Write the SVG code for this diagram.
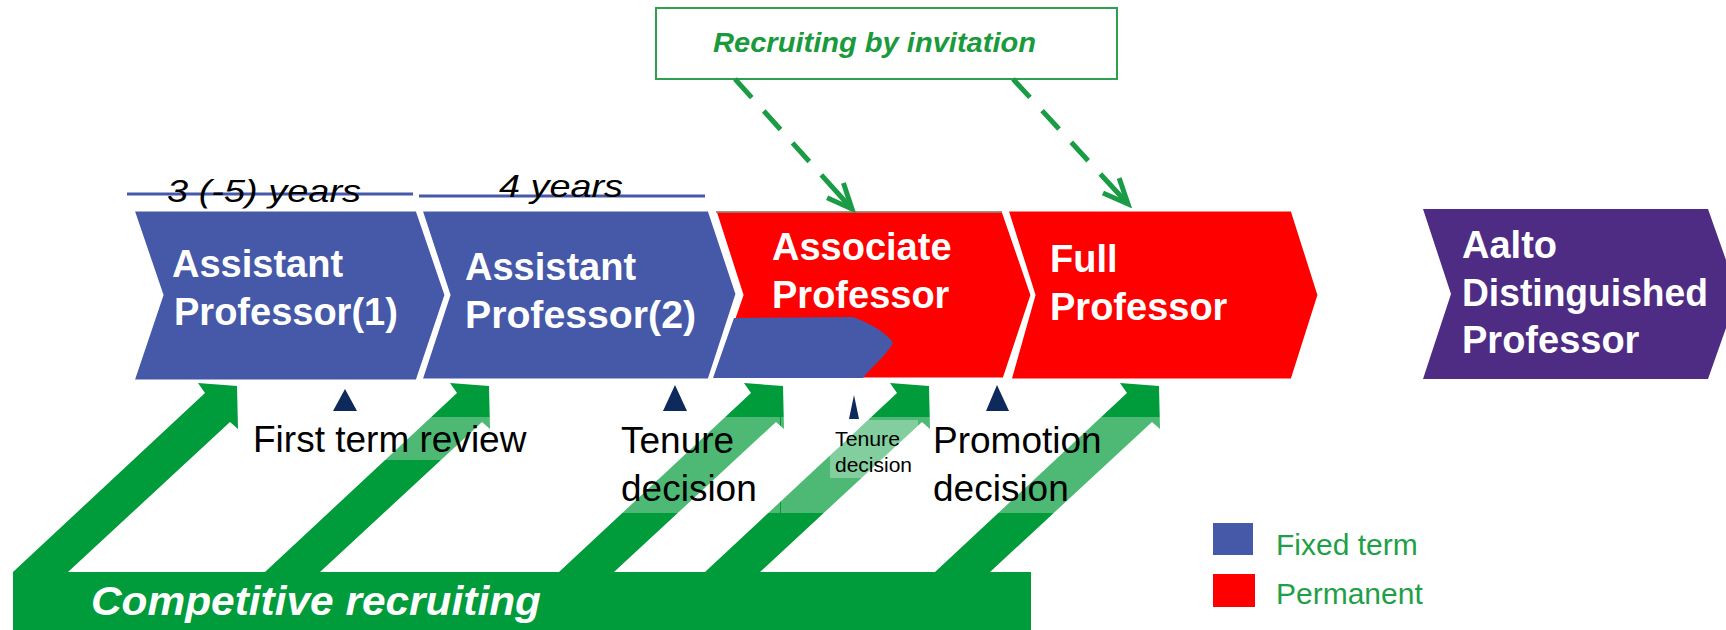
<svg xmlns="http://www.w3.org/2000/svg" xmlns:xlink="http://www.w3.org/1999/xlink" width="1726" height="630" viewBox="0 0 1726 630">
<style>
.blue{fill:#4559a8}
.red{fill:#ff0000}
.purple{fill:#4f2c84}
.chev{stroke:#ffffff;stroke-width:3;stroke-linejoin:miter}
.lbl{font-family:"Liberation Sans",Arial,sans-serif;font-weight:bold;font-size:38px;fill:#ffffff}
.note{font-family:"Liberation Sans",Arial,sans-serif;font-size:37px;fill:#000000}
.yrs{font-family:"Liberation Sans",Arial,sans-serif;font-style:italic;font-size:32px;fill:#000000}
.tri{fill:#0e2a5c}
.grn{fill:#009b3a}
.veil{fill:#ffffff;fill-opacity:0.3}
.legend{font-family:"Liberation Sans",Arial,sans-serif;font-size:30px;fill:#1f9f48}
.dash{fill:none;stroke:#1a9c46;stroke-width:5;stroke-dasharray:25 18 25 18 25 18 60}
</style>
<defs>
<marker id="openhead" viewBox="0 0 32 28" refX="27" refY="14" markerWidth="32" markerHeight="28" markerUnits="userSpaceOnUse" orient="auto">
<path d="M2,3 L27,14 L2,25" fill="none" stroke="#1a9c46" stroke-width="5"/>
</marker>
<path id="garrow" d="M13,572 L205,393 L198,383 L237,386 L238,429 L230,422 L68,572 Z"/>
</defs>

<rect width="1726" height="630" fill="#ffffff"/>

<!-- year spans -->
<g id="span1">
<line x1="127" y1="194" x2="413" y2="194" stroke="#4559a8" stroke-width="3"/>
<text class="yrs" x="167" y="202" textLength="194" lengthAdjust="spacingAndGlyphs">3 (-5) years</text>
</g>
<g id="span2">
<line x1="419" y1="196" x2="705" y2="196" stroke="#4559a8" stroke-width="3"/>
<text class="yrs" x="499" y="197" textLength="124" lengthAdjust="spacingAndGlyphs">4 years</text>
</g>

<!-- chevron nodes -->
<g id="assistant1">
<polygon class="blue chev" points="133,210 417,210 446,295 417,381 133,381 162,295"/>
<text class="lbl" x="172" y="277">Assistant</text>
<text class="lbl" x="174" y="325">Professor(1)</text>
</g>
<g id="assistant2">
<polygon class="blue chev" points="421,210 709,210 737,294 709,380 421,380 449,295"/>
<text class="lbl" x="465" y="280">Assistant</text>
<text class="lbl" x="465" y="328" textLength="231" lengthAdjust="spacingAndGlyphs">Professor(2)</text>
</g>
<g id="associate">
<polygon class="red chev" points="715,211 1003,211 1032,295 1004,379 713,379 742,295"/>
<path class="blue" d="M734,318 L853,317 C872,324 888,334 893,343 C886,356 870,368 863,378 L713,378 Z"/>
<line x1="716" y1="212" x2="1002" y2="212" stroke="#8a6a5a" stroke-width="1.5"/>
<text class="lbl" x="772" y="260">Associate</text>
<text class="lbl" x="772" y="308">Professor</text>
</g>
<g id="full">
<polygon class="red chev" points="1007,210 1292,210 1319,295 1292,380 1010,380 1034,295"/>
<text class="lbl" x="1050" y="272">Full</text>
<text class="lbl" x="1050" y="320">Professor</text>
</g>
<g id="distinguished">
<polygon class="purple" points="1423,209 1708,209 1738,294 1708,379 1423,379 1451,294"/>
<text class="lbl" x="1462" y="258">Aalto</text>
<text class="lbl" x="1462" y="306" textLength="246" lengthAdjust="spacingAndGlyphs">Distinguished</text>
<text class="lbl" x="1462" y="353">Professor</text>
</g>

<!-- invitation node -->
<g id="invitation">
<rect x="656" y="8" width="461" height="71" fill="#ffffff" stroke="#2ea04f" stroke-width="2"/>
<text x="713" y="52" textLength="323" lengthAdjust="spacingAndGlyphs" style="font-family:'Liberation Sans',Arial,sans-serif;font-weight:bold;font-style:italic;font-size:28px;fill:#1a9a3c">Recruiting by invitation</text>
</g>

<!-- competitive recruiting node -->
<g id="competitive">
<rect class="grn" x="13" y="572" width="1018" height="58"/>
<text x="91" y="615" textLength="450" lengthAdjust="spacingAndGlyphs" style="font-family:'Liberation Sans',Arial,sans-serif;font-weight:bold;font-style:italic;font-size:40px;fill:#ffffff">Competitive recruiting</text>
</g>

<!-- connectors -->
<g id="connectors">
<use xlink:href="#garrow" href="#garrow" class="grn"/>
<use xlink:href="#garrow" href="#garrow" class="grn" transform="translate(252,0)"/>
<use xlink:href="#garrow" href="#garrow" class="grn" transform="translate(546,0)"/>
<use xlink:href="#garrow" href="#garrow" class="grn" transform="translate(692,0)"/>
<use xlink:href="#garrow" href="#garrow" class="grn" transform="translate(922,0)"/>
<line class="dash" x1="735" y1="79" x2="852" y2="209" marker-end="url(#openhead)"/>
<line class="dash" x1="1013" y1="79" x2="1128" y2="204" marker-end="url(#openhead)"/>
</g>

<!-- decision milestones -->
<g id="first-term-review">
<rect class="veil" x="245" y="417" width="290" height="43"/>
<polygon class="tri" points="345,389 333,411 357,411"/>
<text class="note" x="253" y="452">First term review</text>
</g>
<g id="tenure-decision">
<rect class="veil" x="612" y="417" width="168" height="96"/>
<polygon class="tri" points="675,385 663,411 687,411"/>
<text class="note" x="621" y="453">Tenure</text>
<text class="note" x="621" y="501">decision</text>
</g>
<g id="promotion-decision">
<rect class="veil" x="781" y="417" width="380" height="96"/>
<polygon class="tri" points="997,385 986,411 1009,411"/>
<text class="note" x="933" y="453">Promotion</text>
<text class="note" x="933" y="501">decision</text>
</g>
<g id="tenure-decision-small">
<rect class="veil" x="830" y="420" width="88" height="58"/>
<polygon class="tri" points="854,395 849,419 859,419"/>
<text x="835" y="446" textLength="65" lengthAdjust="spacingAndGlyphs" style="font-family:'Liberation Sans',Arial,sans-serif;font-size:20px;fill:#000000">Tenure</text>
<text x="835" y="472" textLength="77" lengthAdjust="spacingAndGlyphs" style="font-family:'Liberation Sans',Arial,sans-serif;font-size:20px;fill:#000000">decision</text>
</g>

<!-- legend -->
<g id="legend">
<rect class="blue" x="1213" y="523" width="40" height="32"/>
<rect class="red" x="1213" y="574" width="42" height="33"/>
<text class="legend" x="1276" y="555">Fixed term</text>
<text class="legend" x="1276" y="604">Permanent</text>
</g>
</svg>
